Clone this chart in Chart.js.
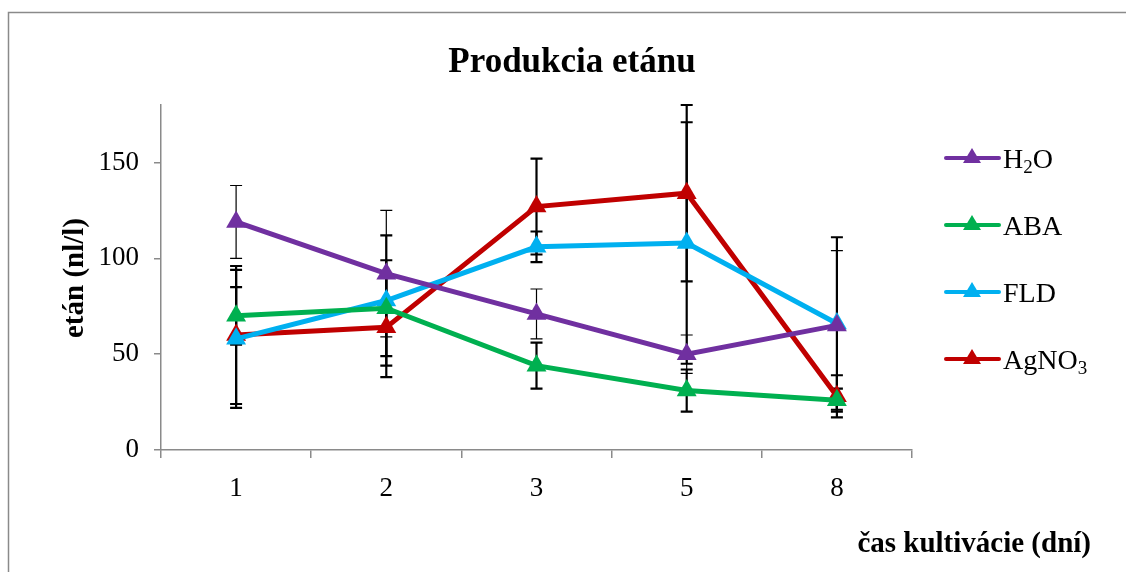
<!DOCTYPE html>
<html>
<head>
<meta charset="utf-8">
<script src="https://cdn.jsdelivr.net/npm/chart.js@4/dist/chart.umd.min.js"></script>
<style>
  body { margin: 0; background: #fff; }
  #wrap { width: 1126px; height: 572px; }
</style>
</head>
<body>
<div id="wrap"><canvas id="c" width="1126" height="572"></canvas></div>
<script>
// categories (days)
const days = ["1", "2", "3", "5", "8"];

// series values (nl/l)
const h2o = [119, 92, 71, 50, 65];
const aba = [70, 74, 44, 31, 26];
const fld = [58, 78, 106, 108, 66];
const agno3 = [60, 64, 127, 134, 28];

// error bar sizes (+/-)
const h2oErr = [19, 33, 13, 10, 39];
const abaErr = [15, 25, 12, 11, 6];
const fldErr = [36, 34, 8, 63, 45];
const agno3Err = [36, 26, 25, 46, 11];

const yTicks = [0, 50, 100, 150];

const serif = "'Liberation Serif', 'Times New Roman', serif";

function makeSet(label, values, errs, color, thin) {
  return {
    label: label,
    data: values,
    errs: errs,
    thinErr: thin,
    borderColor: color,
    backgroundColor: color,
    borderWidth: 5,
    pointStyle: "triangle",
    pointRadius: 11.5,
    pointHoverRadius: 11.5,
    pointBackgroundColor: color,
    pointBorderWidth: 0,
    tension: 0
  };
}

// legend names with subscript parts
const legendNames = [
  [["H", 0], ["2", 1], ["O", 0]],
  [["ABA", 0]],
  [["FLD", 0]],
  [["AgNO", 0], ["3", 1]]
];

const errorBars = {
  id: "errorBars",
  beforeDatasetsDraw(chart) {
    const ctx = chart.ctx;
    const y = chart.scales.y;
    ctx.save();
    ctx.strokeStyle = "#000";
    chart.data.datasets.forEach((ds, i) => {
      const meta = chart.getDatasetMeta(i);
      ctx.lineWidth = ds.thinErr ? 1.2 : 2.2;
      meta.data.forEach((pt, j) => {
        const v = ds.data[j];
        const e = ds.errs[j];
        const top = y.getPixelForValue(v + e);
        const bot = y.getPixelForValue(v - e);
        ctx.beginPath();
        ctx.moveTo(pt.x, top);
        ctx.lineTo(pt.x, bot);
        ctx.moveTo(pt.x - 6, top);
        ctx.lineTo(pt.x + 6, top);
        ctx.moveTo(pt.x - 6, bot);
        ctx.lineTo(pt.x + 6, bot);
        ctx.stroke();
      });
    });
    ctx.restore();
  }
};

const decor = {
  id: "decor",
  afterDraw(chart) {
    const ctx = chart.ctx;
    ctx.save();
    // outer frame
    ctx.strokeStyle = "#8a8a8a";
    ctx.lineWidth = 1.5;
    ctx.strokeRect(8.5, 12.5, 1130, 600);

    ctx.fillStyle = "#000";
    // title
    ctx.font = "bold 35px " + serif;
    ctx.textAlign = "center";
    ctx.textBaseline = "alphabetic";
    ctx.fillText("Produkcia etánu", 572, 72);

    // x title
    ctx.font = "bold 29px " + serif;
    ctx.textAlign = "right";
    ctx.fillText("čas kultivácie (dní)", 1091, 552);

    // y title
    ctx.save();
    ctx.translate(83, 278);
    ctx.rotate(-Math.PI / 2);
    ctx.textAlign = "center";
    ctx.fillText("etán (nl/l)", 0, 0);
    ctx.restore();

    // legend
    const rows = [158, 225, 292, 359];
    chart.data.datasets.forEach((ds, i) => {
      const ly = rows[i];
      ctx.strokeStyle = ds.borderColor;
      ctx.lineWidth = 4;
      ctx.lineCap = "round";
      ctx.beginPath();
      ctx.moveTo(946, ly);
      ctx.lineTo(999, ly);
      ctx.stroke();
      ctx.fillStyle = ds.borderColor;
      ctx.beginPath();
      ctx.moveTo(972, ly - 10);
      ctx.lineTo(981, ly + 5);
      ctx.lineTo(963, ly + 5);
      ctx.closePath();
      ctx.fill();

      ctx.fillStyle = "#000";
      ctx.textAlign = "left";
      let x = 1003;
      legendNames[i].forEach(([txt, sub]) => {
        ctx.font = (sub ? "19px " : "28px ") + serif;
        ctx.fillText(txt, x, ly + 9.5 + (sub ? 5 : 0));
        x += ctx.measureText(txt).width;
      });
    });
    ctx.restore();
  }
};

new Chart(document.getElementById("c"), {
  type: "line",
  data: {
    labels: days,
    datasets: [
      makeSet("H2O", h2o, h2oErr, "#7030A0", true),
      makeSet("ABA", aba, abaErr, "#00B050", false),
      makeSet("FLD", fld, fldErr, "#00B0F0", false),
      makeSet("AgNO3", agno3, agno3Err, "#C00000", false)
    ]
  },
  options: {
    responsive: false,
    animation: false,
    layout: { padding: { top: 105, right: 214, left: 0, bottom: 0 } },
    plugins: {
      legend: { display: false },
      title: { display: false },
      tooltip: { enabled: false }
    },
    scales: {
      x: {
        offset: true,
        afterFit: (s) => { s.height = 122; },
        border: { color: "#8a8a8a", width: 1.5 },
        grid: {
          offset: true,
          drawOnChartArea: false,
          drawTicks: true,
          tickLength: 8,
          color: "#8a8a8a",
          lineWidth: 1.5
        },
        ticks: {
          color: "#000",
          padding: 15,
          font: { family: serif, size: 27 }
        }
      },
      y: {
        min: 0,
        max: 180,
        afterFit: (s) => { s.width = 161; },
        afterBuildTicks: (s) => {
          s.ticks = yTicks.map((v) => ({ value: v }));
        },
        border: { color: "#8a8a8a", width: 1.5 },
        grid: {
          drawOnChartArea: false,
          drawTicks: true,
          tickLength: 7,
          color: "#8a8a8a",
          lineWidth: 1.5
        },
        ticks: {
          color: "#000",
          padding: 15,
          font: { family: serif, size: 27 }
        }
      }
    }
  },
  plugins: [errorBars, decor]
});
</script>
</body>
</html>
